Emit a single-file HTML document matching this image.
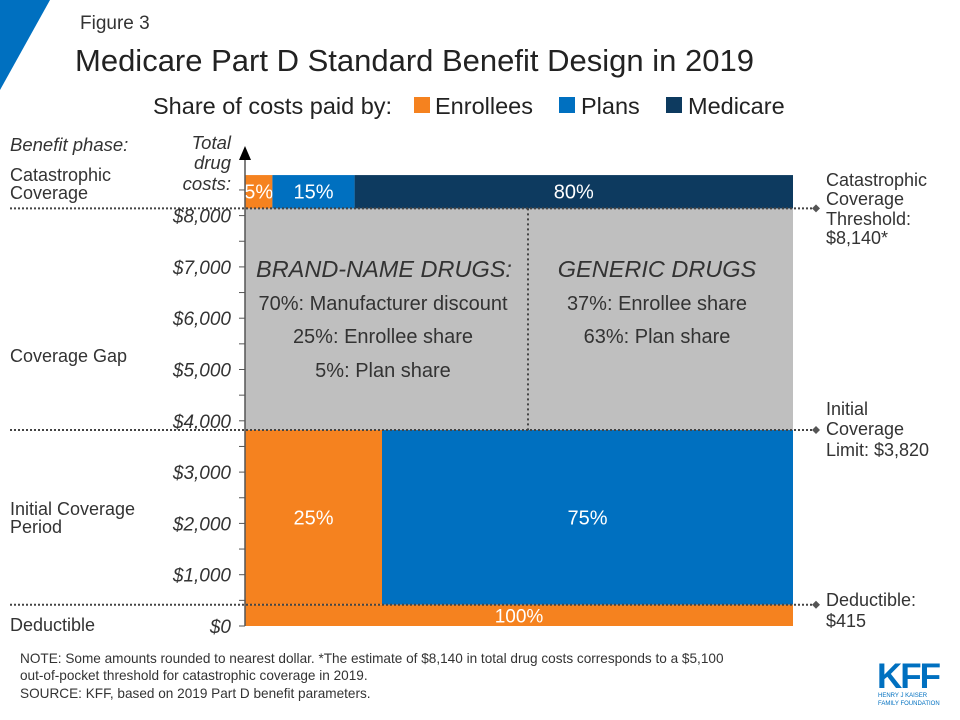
<!DOCTYPE html>
<html><head><meta charset="utf-8"><style>
body{margin:0;background:#fff;}
svg{display:block;font-family:"Liberation Sans",sans-serif;}
</style></head><body>
<svg id="c" width="960" height="720" viewBox="0 0 960 720">
<polygon points="0,0 50,0 0,90" fill="#0070c0"/>
<text x="80" y="29" font-size="19" fill="#333">Figure 3</text>
<text x="75" y="71" font-size="31" fill="#222">Medicare Part D Standard Benefit Design in 2019</text>
<g font-size="23.5" fill="#222">
<text x="153" y="114">Share of costs paid by:</text>
<rect x="414" y="97" width="16" height="16" fill="#f5821f"/><text x="435" y="114">Enrollees</text>
<rect x="559" y="97" width="16" height="16" fill="#0070c0"/><text x="581" y="114">Plans</text>
<rect x="666" y="97" width="16" height="16" fill="#0d3a5f"/><text x="688" y="114">Medicare</text>
</g>
<text x="10" y="151" font-size="18.5" font-style="italic" fill="#333">Benefit phase:</text>
<g font-size="18.5" font-style="italic" fill="#333" text-anchor="end">
<text x="231" y="149">Total</text><text x="231" y="169">drug</text><text x="231" y="190">costs:</text></g>
<g id="plot"></g>
<g font-size="18" fill="#333">
<text x="10" y="181">Catastrophic</text><text x="10" y="199">Coverage</text>
<text x="10" y="362">Coverage Gap</text>
<text x="10" y="515">Initial Coverage</text><text x="10" y="533">Period</text>
<text x="10" y="631">Deductible</text>
</g>
<g font-size="18" fill="#333">
<text x="826" y="186">Catastrophic</text><text x="826" y="205">Coverage</text><text x="826" y="225">Threshold:</text><text x="826" y="244">$8,140*</text>
<text x="826" y="415">Initial</text><text x="826" y="435">Coverage</text><text x="826" y="456">Limit: $3,820</text>
<text x="826" y="606">Deductible:</text><text x="826" y="627">$415</text>
</g>
<g fill="#333" text-anchor="middle">
<text x="384" y="277" font-size="23.5" font-style="italic">BRAND-NAME DRUGS:</text>
<text x="383" y="310" font-size="20">70%: Manufacturer discount</text>
<text x="383" y="343" font-size="20">25%: Enrollee share</text>
<text x="383" y="377" font-size="20">5%: Plan share</text>
<text x="657" y="277" font-size="23.5" font-style="italic">GENERIC DRUGS</text>
<text x="657" y="310" font-size="20">37%: Enrollee share</text>
<text x="657" y="343" font-size="20">63%: Plan share</text>
</g>
<g font-size="13.6" fill="#333">
<text x="20" y="663">NOTE: Some amounts rounded to nearest dollar. *The estimate of $8,140 in total drug costs corresponds to a $5,100</text>
<text x="20" y="680">out-of-pocket threshold for catastrophic coverage in 2019.</text>
<text x="20" y="698">SOURCE: KFF, based on 2019 Part D benefit parameters.</text>
</g>
<g fill="#0070c0">
<text x="877" y="688" font-size="35" font-weight="bold" letter-spacing="-2">KFF</text>
<text x="878" y="697" font-size="6">HENRY J KAISER</text>
<text x="878" y="705" font-size="6">FAMILY FOUNDATION</text>
</g>
</svg>
<script>
const ticks=[0,1000,2000,3000,4000,5000,6000,7000,8000];
const tickLabels=["$0","$1,000","$2,000","$3,000","$4,000","$5,000","$6,000","$7,000","$8,000"];
const thresholds=[415,3820,8140];
const topValue=8790;
const catShares=[5,15,80];
const initShares=[25,75];
const dedShares=[100];
const colors=["#f5821f","#0070c0","#0d3a5f"];
const X0=245,X1=793,Y0=626,PX=0.0513;
const y=v=>Y0-v*PX;
const x=p=>X0+(X1-X0)*p/100;
const NS="http://www.w3.org/2000/svg",g=document.getElementById('plot');
function el(t,a){const e=document.createElementNS(NS,t);for(const k in a)e.setAttribute(k,a[k]);g.appendChild(e);return e;}
function band(shares,lo,hi,fs){let acc=0;shares.forEach((s,i)=>{
 const r=el('rect',{x:x(acc),y:y(hi),width:x(acc+s)-x(acc),height:y(lo)-y(hi),fill:colors[i]});
 
 
 const t=el('text',{x:(x(acc)+x(acc+s))/2,y:(y(lo)+y(hi))/2+7,'font-size':fs,fill:'#fff','text-anchor':'middle'});
 t.textContent=s+'%';
 
 
 acc+=s;});}
const gap=el('rect',{x:X0,y:y(thresholds[2]),width:X1-X0,height:y(thresholds[1])-y(thresholds[2]),fill:'#bfbfbf'});


band(catShares,thresholds[2],topValue,20);
band(initShares,thresholds[0],thresholds[1],20);
band(dedShares,0,thresholds[0],19);
const vd=el('line',{x1:528,x2:528,y1:y(thresholds[2]),y2:y(thresholds[1]),stroke:'#444','stroke-width':2,'stroke-dasharray':'2,3'});


thresholds.forEach(v=>{
 const l=el('line',{x1:10,x2:816,y1:y(v),y2:y(v),stroke:'#444','stroke-width':2,'stroke-dasharray':'2,2'});
 
 
 const d=el('polygon',{points:`816,${y(v)-4} 820,${y(v)} 816,${y(v)+4} 812,${y(v)}`,fill:'#555'});
 
 
});
const ax=el('line',{x1:X0,x2:X0,y1:Y0,y2:158,stroke:'#555','stroke-width':1.5});


const ar=el('polygon',{points:`${X0-6},160 ${X0+6},160 ${X0},146`,fill:'#000'});


for(let v=0;v<=8500;v+=500){const tk=el('line',{x1:X0-6,x2:X0,y1:y(v),y2:y(v),stroke:'#555','stroke-width':1});
 
 }
ticks.forEach((v,i)=>{const t=el('text',{x:231,y:y(v)+7,'font-size':19,'font-style':'italic',fill:'#333','text-anchor':'end'});
 t.textContent=tickLabels[i];
 
 });
</script>
</body></html>
